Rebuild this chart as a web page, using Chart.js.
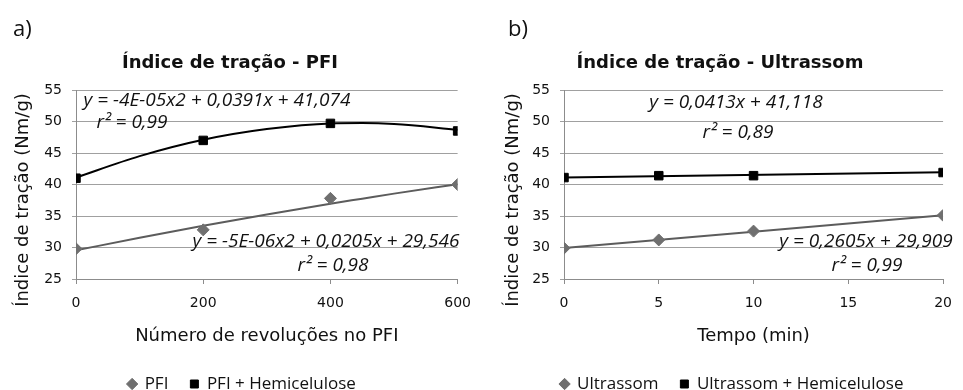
<!DOCTYPE html>
<html lang="pt">
<head>
<meta charset="utf-8">
<title>Índice de tração</title>
<script src="https://cdn.jsdelivr.net/npm/chart.js@4.4.1/dist/chart.umd.min.js"></script>
<style>
  body { margin: 0; background: #fff; }
  #graficoA { position: absolute; left: 0; top: 0; }
  #graficoB { position: absolute; left: 487px; top: 0; }
</style>
</head>
<body>
<canvas id="graficoA" width="482" height="390"></canvas>
<canvas id="graficoB" width="476" height="390"></canvas>
<script>
// Gráfico a) - PFI
const revolucoes = [0, 200, 400, 600];
const pfi = [29.8, 32.8, 37.8, 40.0];
const pfiHemicelulose = [41.0, 47.0, 49.7, 48.5];
// Linhas de tendência
const revolucoesTendencia = [0, 100, 200, 300, 400, 450, 500, 600];
const pfiTendencia = [29.55, 31.55, 33.45, 35.25, 36.95, 37.75, 38.55, 40.05];
const pfiHemiTendencia = [41.1, 44.5, 47.1, 48.8, 49.7, 49.75, 49.6, 48.7];

// Gráfico b) - Ultrassom
const tempo = [0, 5, 10, 20];
const ultrassom = [29.9, 31.2, 32.6, 35.1];
const ultrassomHemicelulose = [41.1, 41.4, 41.4, 41.9];
const tempoTendencia = [0, 20];
const ultrassomTendencia = [29.91, 35.12];
const ultrassomHemiTendencia = [41.12, 41.94];

// Marcas dos eixos
const ticksEixoY = [25, 30, 35, 40, 45, 50, 55];
const ticksRevolucoes = [0, 200, 400, 600];
const ticksTempo = [0, 5, 10, 15, 20];

const CINZA = "#6f6f6f";
const PRETO = "#000000";

Chart.defaults.font.family = "'DejaVu Sans', sans-serif";
Chart.defaults.color = "#1a1a1a";

function pontos(xs, ys) {
    return xs.map((x, i) => ({ x: x, y: ys[i] }));
}

// Textos soltos: letra do painel, título do eixo Y e equações das tendências
const textosPlugin = {
    id: "textos",
    afterDraw(chart, args, opts) {
        const ctx = chart.ctx;
        opts.itens.forEach(item => {
            ctx.save();
            ctx.fillStyle = "#111";
            ctx.textBaseline = "middle";
            ctx.font = item.font;
            ctx.textAlign = item.align || "center";
            ctx.translate(item.x, item.y);
            if (item.girar) ctx.rotate(-Math.PI / 2);
            ctx.fillText(item.texto, 0, 0);
            ctx.restore();
        });
    }
};

// Altura fixa da legenda e pequeno deslocamento para a direita
const legendaPlugin = {
    id: "ajusteLegenda",
    beforeInit(chart) {
        const legenda = chart.legend;
        const fitOriginal = legenda.fit;
        legenda.fit = function () {
            fitOriginal.call(this);
            this.height = 36.5;
        };
    },
    afterLayout(chart) {
        chart.legend.left += 12;
        chart.legend.right += 12;
    }
};

function montarGrafico(id, cfg) {
    const ctx = document.getElementById(id).getContext("2d");
    return new Chart(ctx, {
        type: "scatter",
        data: {
            datasets: [
                {
                    label: cfg.nomes[0],
                    data: cfg.serie1,
                    pointStyle: "rectRot",
                    pointRadius: 6,
                    pointHoverRadius: 6,
                    backgroundColor: CINZA,
                    borderColor: CINZA,
                    order: 0
                },
                {
                    label: cfg.nomes[1],
                    data: cfg.serie2,
                    pointStyle: "rect",
                    pointRadius: 6,
                    pointHoverRadius: 6,
                    backgroundColor: PRETO,
                    borderColor: PRETO,
                    order: 0
                },
                {
                    label: "Tendência 1",
                    data: cfg.tendencia1,
                    showLine: true,
                    pointRadius: 0,
                    borderColor: "#5c5c5c",
                    borderWidth: 2,
                    tension: 0.4,
                    cubicInterpolationMode: "monotone",
                    naLegenda: false,
                    order: 1
                },
                {
                    label: "Tendência 2",
                    data: cfg.tendencia2,
                    showLine: true,
                    pointRadius: 0,
                    borderColor: PRETO,
                    borderWidth: 2,
                    tension: 0.4,
                    cubicInterpolationMode: "monotone",
                    naLegenda: false,
                    order: 1
                }
            ]
        },
        options: {
            responsive: false,
            animation: false,
            layout: { padding: { left: 0, right: cfg.direita, top: 0, bottom: 0 } },
            scales: {
                x: {
                    type: "linear",
                    min: cfg.ticksX[0],
                    max: cfg.ticksX[cfg.ticksX.length - 1],
                    afterBuildTicks: scale => { scale.ticks = cfg.ticksX.map(v => ({ value: v })); },
                    afterFit: scale => { scale.height = 74.5; },
                    grid: { drawOnChartArea: false, tickLength: 5, color: "#8c8c8c" },
                    border: { color: "#8c8c8c" },
                    ticks: { font: { size: 14 }, padding: 11, color: "#111" },
                    title: {
                        display: true,
                        text: cfg.tituloX,
                        font: { size: 18 },
                        color: "#111",
                        padding: { top: 0, bottom: 6.5 }
                    }
                },
                y: {
                    min: 25,
                    max: 55,
                    afterBuildTicks: scale => { scale.ticks = ticksEixoY.map(v => ({ value: v })); },
                    afterFit: scale => { scale.width = cfg.larguraY; },
                    grid: { tickLength: 4, color: "#a0a0a0" },
                    border: { color: "#8c8c8c" },
                    ticks: { font: { size: 14 }, padding: cfg.paddingY, color: "#111" }
                }
            },
            plugins: {
                title: {
                    display: true,
                    text: cfg.titulo,
                    font: { size: 18, weight: "bold" },
                    color: "#111",
                    padding: { top: 53, bottom: 15.4 }
                },
                legend: {
                    position: "bottom",
                    labels: {
                        usePointStyle: true,
                        boxWidth: 8,
                        boxHeight: 8,
                        padding: 22,
                        color: "#111",
                        font: { family: "'Open Sans', sans-serif", size: 17 },
                        filter: (item, data) => data.datasets[item.datasetIndex].naLegenda !== false
                    }
                },
                tooltip: { enabled: false },
                textos: { itens: cfg.textos }
            }
        },
        plugins: [textosPlugin, legendaPlugin]
    });
}

const fonteEq = "italic 19px 'Open Sans', sans-serif";
const fonteLetra = "22px 'Open Sans', sans-serif";
const fonteEixoY = "18px 'DejaVu Sans', sans-serif";
const tituloY = "Índice de tração (Nm/g)";

montarGrafico("graficoA", {
    titulo: "Índice de tração - PFI",
    tituloX: "Número de revoluções no PFI",
    nomes: ["PFI", "PFI + Hemicelulose"],
    serie1: pontos(revolucoes, pfi),
    serie2: pontos(revolucoes, pfiHemicelulose),
    tendencia1: pontos(revolucoesTendencia, pfiTendencia),
    tendencia2: pontos(revolucoesTendencia, pfiHemiTendencia),
    ticksX: ticksRevolucoes,
    larguraY: 76,
    paddingY: 10,
    direita: 22,
    textos: [
        { texto: "a)", x: 13, y: 30, align: "left", font: fonteLetra },
        { texto: tituloY, x: 23, y: 200, girar: true, font: fonteEixoY },
        { texto: "y = -4E-05x2 + 0,0391x + 41,074", x: 217, y: 101, font: fonteEq },
        { texto: "r² = 0,99", x: 132, y: 123, font: fonteEq },
        { texto: "y = -5E-06x2 + 0,0205x + 29,546", x: 326, y: 242, font: fonteEq },
        { texto: "r² = 0,98", x: 333, y: 266, font: fonteEq }
    ]
});

montarGrafico("graficoB", {
    titulo: "Índice de tração - Ultrassom",
    tituloX: "Tempo (min)",
    nomes: ["Ultrassom", "Ultrassom + Hemicelulose"],
    serie1: pontos(tempo, ultrassom),
    serie2: pontos(tempo, ultrassomHemicelulose),
    tendencia1: pontos(tempoTendencia, ultrassomTendencia),
    tendencia2: pontos(tempoTendencia, ultrassomHemiTendencia),
    ticksX: ticksTempo,
    larguraY: 77,
    paddingY: 10,
    direita: 10,
    textos: [
        { texto: "b)", x: 21, y: 30, align: "left", font: fonteLetra },
        { texto: tituloY, x: 26, y: 200, girar: true, font: fonteEixoY },
        { texto: "y = 0,0413x + 41,118", x: 249, y: 103, font: fonteEq },
        { texto: "r² = 0,89", x: 251, y: 133, font: fonteEq },
        { texto: "y = 0,2605x + 29,909", x: 379, y: 242, font: fonteEq },
        { texto: "r² = 0,99", x: 380, y: 266, font: fonteEq }
    ]
});
</script>
</body>
</html>
